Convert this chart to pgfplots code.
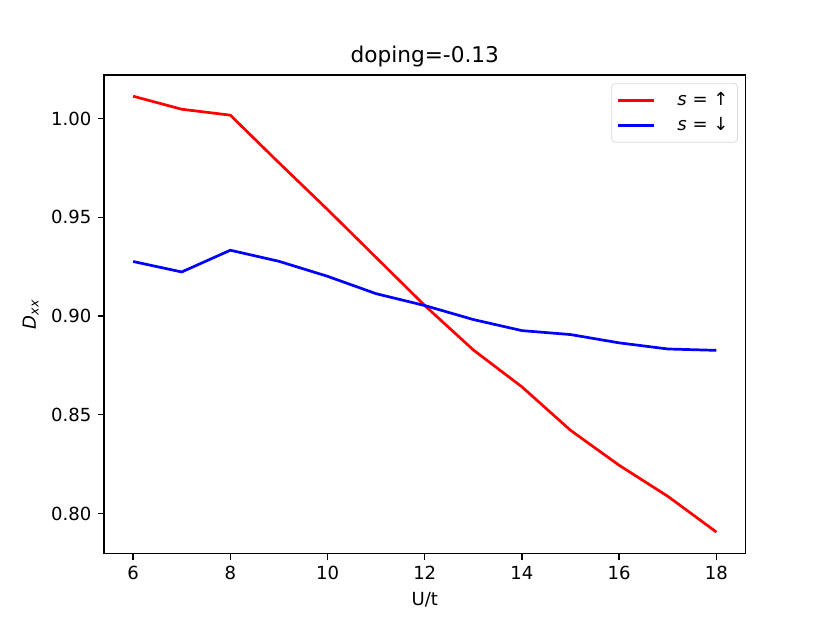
\documentclass[border=0pt]{standalone}
\usepackage{fontspec}
\setmainfont{DejaVu Sans}
\usepackage{pgfplots}
\pgfplotsset{compat=1.18}

\begin{document}
\begin{tikzpicture}
\path[use as bounding box] (0,0) rectangle (460pt,345pt);
\begin{axis}[
  at={(57.6pt,38.2pt)}, anchor=south west,
  scale only axis,
  width=355.6pt, height=265.3pt,
  xmin=5.4, xmax=18.6,
  ymin=0.7797, ymax=1.0221,
  xtick={6,8,10,12,14,16,18},
  ytick={0.80,0.85,0.90,0.95,1.00},
  yticklabel style={/pgf/number format/.cd, fixed, fixed zerofill, precision=2},
  /pgf/number format/assume math mode=true,
  tick label style={font=\fontsize{10}{12}\selectfont},
  tick align=outside,
  xtick pos=left, ytick pos=left,
  major tick length=3.5pt,
  axis line style={line width=0.8pt},
  every tick/.style={line width=0.8pt, black},
  title={doping=-0.13},
  title style={font=\fontsize{12}{14}\selectfont, at={(0.5,1)}, anchor=south, yshift=-5pt},
  xlabel={U/t},
  ylabel={\textit{D}\textsubscript{\textit{xx}}},
  label style={font=\fontsize{10}{12}\selectfont},
  legend style={at={(0.988,0.983)}, anchor=north east, draw=black!15,
    rounded corners=2pt, font=\fontsize{10}{12}\selectfont,
    row sep=1pt, inner sep=3pt},
  legend cell align=left,
  legend image code/.code={\draw[#1] (0cm,0cm) -- (0.7cm,0cm);},
]
\addplot[red, line width=1.5pt] coordinates {
  (6,1.0113) (7,1.0047) (8,1.0017) (9,0.9776) (10,0.9539) (11,0.9296)
  (12,0.9053) (13,0.8828) (14,0.8641) (15,0.8421) (16,0.8244) (17,0.8087) (18,0.7906)
};
\addlegendentry{\hspace{1em}\textit{s} = ↑}
\addplot[blue, line width=1.5pt] coordinates {
  (6,0.9276) (7,0.9223) (8,0.9333) (9,0.9277) (10,0.9201) (11,0.9113)
  (12,0.9053) (13,0.8982) (14,0.8926) (15,0.8906) (16,0.8864) (17,0.8833) (18,0.8826)
};
\addlegendentry{\hspace{1em}\textit{s} = ↓}
\end{axis}
\end{tikzpicture}
\end{document}
